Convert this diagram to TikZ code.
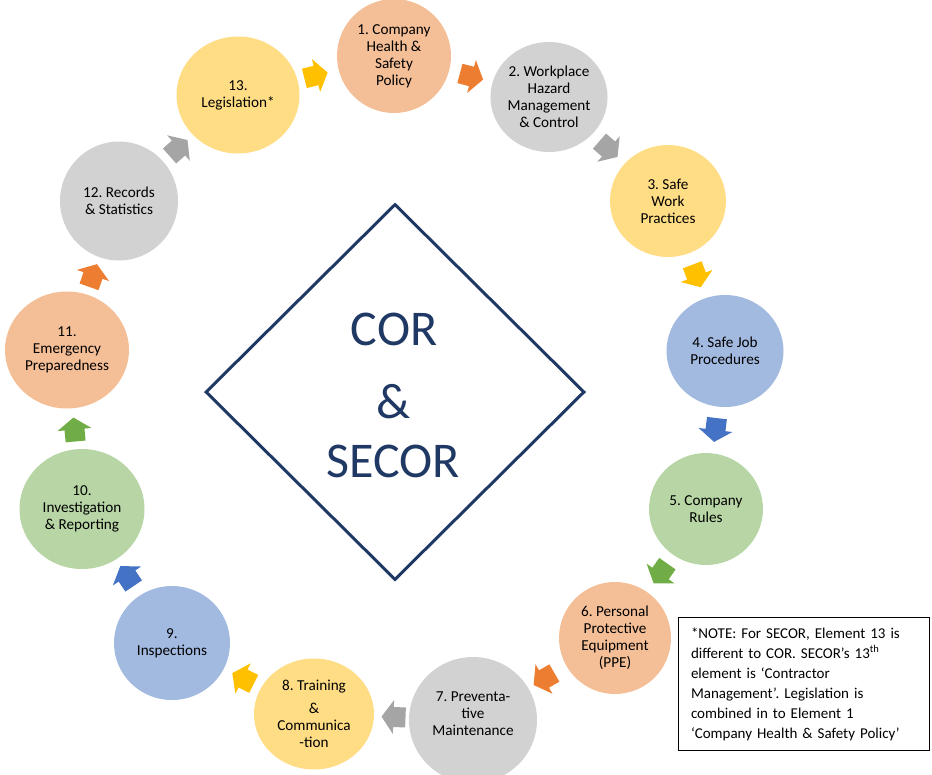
\documentclass[tikz,border=0pt]{standalone}
\usepackage{fontspec}
\setmainfont{Carlito}
\usetikzlibrary{shapes.geometric}
\definecolor{cPeach}{HTML}{F4BE96}
\definecolor{cGrey}{HTML}{D2D2D2}
\definecolor{cYellow}{HTML}{FFDD85}
\definecolor{cBlue}{HTML}{A2B9E0}
\definecolor{cGreen}{HTML}{B8D6A5}
\definecolor{aOrange}{HTML}{ED7D31}
\definecolor{aGrey}{HTML}{A5A5A5}
\definecolor{aYellow}{HTML}{FFC000}
\definecolor{aBlue}{HTML}{4472C4}
\definecolor{aGreen}{HTML}{70AD47}
\definecolor{navy}{HTML}{1F3864}
\frenchspacing
\tikzset{
  elem/.style={ellipse, draw=none, align=center, inner sep=0pt, text=black,
    font=\fontsize{15.2}{17}\selectfont},
  titletext/.style={text=navy, anchor=base, inner sep=0pt, font=\fontsize{50}{58}\selectfont},
  blockarrow/.pic={\path[pic actions] (-12,-10) -- (0,-10) -- (0,-17) -- (12,0) -- (0,17) -- (0,10) -- (-12,10) -- cycle;},
  flowarrow/.style={sloped, allow upside down, pos=0.5},
}
\begin{document}
\begin{tikzpicture}[x=1pt,y=-1pt]
\useasboundingbox (0,0) rectangle (932,774);
% central diamond
\node[diamond, draw=navy, line width=3pt, minimum width=379pt, minimum height=376pt, inner sep=0pt] (dia) at (395,392) {};
\node[titletext] (t1) at (394,345) {COR};
\node[titletext] (t2) at (394,418) {\&};
\node[titletext] (t3) at (393,477) {SECOR};
% elements
\node[elem, fill=cPeach, minimum width=114pt, minimum height=114pt] (n1) at (394,56) {1. Company\\Health \&\\Safety\\Policy};
\node[elem, fill=cGrey, minimum width=112pt, minimum height=110pt] (n2) at (549,97) {2. Workplace\\Hazard\\Management\\\& Control};
\node[elem, fill=cYellow, minimum width=116pt, minimum height=112pt] (n3) at (668,201) {3. Safe\\Work\\Practices};
\node[elem, fill=cBlue, minimum width=117pt, minimum height=112pt] (n4) at (725,351) {4. Safe Job\\Procedures};
\node[elem, fill=cGreen, minimum width=114pt, minimum height=112pt] (n5) at (706,509) {5. Company\\Rules};
\node[elem, fill=cPeach, minimum width=112pt, minimum height=112pt] (n6) at (615,638) {6. Personal\\Protective\\Equipment\\(PPE)};
\node[elem, fill=cGrey, minimum width=128pt, minimum height=126pt] (n7) at (473,720) {};
\node[elem] (n7t) at (473,714) {7. Preventa-\\tive\\Maintenance};
\node[elem, fill=cYellow, minimum width=120pt, minimum height=111pt] (n8) at (314,714) {8. Training\\[6pt]\&\\Communica\\-tion};
\node[elem, fill=cBlue, minimum width=116pt, minimum height=114pt] (n9) at (172,643) {9.\\Inspections};
\node[elem, fill=cGreen, minimum width=125pt, minimum height=120pt] (n10) at (82,509) {10.\\Investigation\\\& Reporting};
\node[elem, fill=cPeach, minimum width=124pt, minimum height=117pt] (n11) at (67,350) {11.\\Emergency\\Preparedness};
\node[elem, fill=cGrey, minimum width=118pt, minimum height=119pt] (n12) at (119,201) {12. Records\\\& Statistics};
\node[elem, fill=cYellow, minimum width=123pt, minimum height=117pt] (n13) at (238,95) {13.\\Legislation*};
% arrows between elements
\path (n13.center) -- pic[flowarrow, fill=aYellow] {blockarrow} (n1.center);
\path (n1.center) -- pic[flowarrow, fill=aOrange] {blockarrow} (n2.center);
\path (n2.center) -- pic[flowarrow, fill=aGrey] {blockarrow} (n3.center);
\path (n3.center) -- pic[flowarrow, fill=aYellow] {blockarrow} (n4.center);
\path (n4.center) -- pic[flowarrow, fill=aBlue] {blockarrow} (n5.center);
\path (n5.center) -- pic[flowarrow, fill=aGreen] {blockarrow} (n6.center);
\path (n6.center) -- pic[flowarrow, fill=aOrange] {blockarrow} (n7.center);
\path (n7.center) -- pic[flowarrow, fill=aGrey] {blockarrow} (n8.center);
\path (n8.center) -- pic[flowarrow, fill=aYellow] {blockarrow} (n9.center);
\path (n9.center) -- pic[flowarrow, fill=aBlue] {blockarrow} (n10.center);
\path (n10.center) -- pic[flowarrow, fill=aGreen] {blockarrow} (n11.center);
\path (n11.center) -- pic[flowarrow, fill=aOrange] {blockarrow} (n12.center);
\path (n12.center) -- pic[flowarrow, fill=aGrey] {blockarrow} (n13.center);
% note
\node[draw=black, line width=1pt, anchor=north west, minimum width=251pt, minimum height=133pt,
  inner xsep=12pt, text width=226pt, align=left, font=\fontsize{15}{20}\selectfont] (note) at (678,617)
  {*NOTE: For SECOR, Element 13 is\\different to COR. SECOR’s 13\textsuperscript{th}\\element is ‘Contractor\\Management’. Legislation is\\combined in to Element 1\\‘Company Health \& Safety Policy’};
\end{tikzpicture}
\end{document}
